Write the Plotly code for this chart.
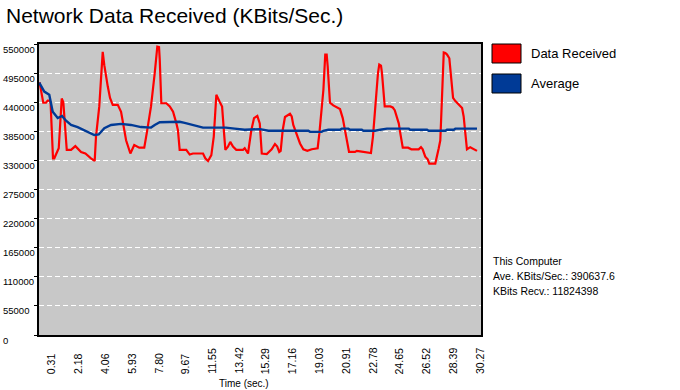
import plotly.graph_objects as go

# ---------------- data ----------------
time_ticks = [0.31, 2.18, 4.06, 5.93, 7.80, 9.67, 11.55, 13.42, 15.29, 17.16,
              19.03, 20.91, 22.78, 24.65, 26.52, 28.39, 30.27]
time_tick_labels = ["0.31", "2.18", "4.06", "5.93", "7.80", "9.67", "11.55", "13.42",
                    "15.29", "17.16", "19.03", "20.91", "22.78", "24.65", "26.52",
                    "28.39", "30.27"]
y_ticks = [0, 55000, 110000, 165000, 220000, 275000, 330000, 385000, 440000, 495000, 550000]
y_tick_labels = ["0", "55000", "110000", "165000", "220000", "275000", "330000",
                 "385000", "440000", "495000", "550000"]

recv_time = [-0.47, -0.21, -0.02, 0.10, 0.21, 0.30, 0.47, 0.56, 0.87, 1.08, 1.19, 1.43,
             1.73, 2.03, 2.43, 2.73, 3.12, 3.38, 3.47, 3.70, 3.94, 4.05, 4.29, 4.45,
             4.64, 4.99, 5.22, 5.38, 5.57, 5.87, 6.14, 6.49, 6.84, 7.01, 7.31, 7.57,
             7.75, 7.87, 7.92, 8.03, 8.38, 8.62, 8.85, 9.08, 9.19, 9.31, 9.77, 10.01,
             10.24, 10.94, 11.10, 11.29, 11.52, 11.69, 11.87, 12.10, 12.27, 12.41, 12.50,
             12.68, 12.84, 13.03, 13.26, 13.73, 13.85, 14.08, 14.31, 14.50, 14.73, 14.90,
             15.04, 15.39, 15.73, 15.96, 16.12, 16.26, 16.36, 16.50, 16.66, 17.01, 17.13,
             17.24, 17.48, 17.71, 17.94, 18.22, 18.53, 18.94, 19.06, 19.22, 19.34, 19.47,
             19.57, 19.64, 19.75, 19.80, 20.03, 20.27, 20.50, 20.69, 20.85, 21.01, 21.13,
             21.55, 21.67, 21.90, 22.36, 22.66, 22.80, 22.92, 23.01, 23.15, 23.24, 23.36,
             23.43, 23.55, 23.62, 24.01, 24.18, 24.32, 24.48, 24.60, 24.71, 24.78, 24.88,
             25.25, 25.48, 25.99, 26.15, 26.27, 26.45, 26.62, 26.73, 27.15, 27.27, 27.39,
             27.50, 27.62, 27.74, 27.85, 27.97, 28.13, 28.27, 28.39, 28.55, 28.78, 29.02,
             29.13, 29.25, 29.36, 29.59, 29.83, 30.06]
recv_kbits = [478000, 439000, 439000, 443000, 443000, 440000, 334000, 334000, 353000,
              447000, 440000, 350000, 350000, 357000, 346000, 343000, 334000, 329000,
              375000, 432000, 535000, 510000, 470000, 448000, 435000, 435000, 422000,
              400000, 368000, 343000, 359000, 354000, 354000, 381000, 432000, 495000,
              545000, 544000, 520000, 438000, 438000, 432000, 422000, 400000, 387000,
              350000, 350000, 341000, 343000, 343000, 334000, 329000, 340000, 375000,
              454000, 441000, 432000, 381000, 350000, 356000, 365000, 356000, 350000,
              350000, 353000, 343000, 387000, 410000, 414000, 400000, 343000, 342000,
              351000, 361000, 356000, 346000, 348000, 387000, 412000, 418000, 413000,
              397000, 378000, 362000, 351000, 348000, 351000, 353000, 381000, 432000,
              463000, 530000, 530000, 508000, 463000, 439000, 434000, 430000, 427000,
              410000, 387000, 368000, 346000, 346000, 348000, 347000, 346000, 344000,
              375000, 413000, 457000, 495000, 511000, 509000, 495000, 463000, 432000,
              432000, 430000, 425000, 413000, 400000, 381000, 368000, 354000, 354000,
              351000, 351000, 355000, 351000, 337000, 332000, 324000, 324000, 337000,
              353000, 368000, 444000, 534000, 533000, 530000, 523000, 489000, 448000,
              442000, 436000, 429000, 413000, 381000, 351000, 355000, 352000, 348000]

avg_time = [-0.49, -0.14, 0.21, 0.45, 0.80, 1.10, 1.38, 1.73, 2.19, 2.77, 3.35, 3.66,
            4.05, 4.52, 5.22, 5.91, 6.61, 7.31, 7.57, 7.92, 8.50, 9.31, 9.66, 10.36,
            10.94, 11.99, 12.54, 13.15, 13.85, 14.92, 15.50, 18.29, 18.41, 19.22, 19.34,
            19.68, 20.50, 20.62, 21.08, 21.20, 22.02, 22.13, 22.94, 23.31, 23.78, 25.30,
            25.39, 26.57, 26.69, 27.85, 27.97, 28.44, 28.55, 30.06]
avg_kbits = [477000, 460000, 454000, 422000, 410000, 414000, 405000, 397000, 393000,
             386000, 378000, 379000, 391000, 397000, 399000, 397000, 393000, 392000,
             397000, 402000, 403000, 403000, 401000, 396000, 392000, 392000, 392000,
             390000, 388000, 389000, 386000, 386000, 384000, 384000, 386000, 388000,
             388000, 390000, 390000, 388000, 388000, 386000, 386000, 388000, 390000,
             390000, 388000, 388000, 386000, 386000, 388000, 388000, 390000, 390000]

series_names = ["Data Received", "Average"]
info_lines = ["This Computer", "Ave. KBits/Sec.: 390637.6", "KBits Recv.: 11824398"]

RED = "#FF0000"
BLUE = "#003A96"
FONT = "Liberation Sans, Arial, sans-serif"

# ---------------- geometry (pixels) ----------------
W, H = 680, 390
L, R, T, B = 39, 199, 44, 55
PW, PH = W - L - R, H - T - B


def px_x(p):
    return (p - L) / PW


def px_y(p):
    return (H - B - p) / PH


fig = go.Figure()
fig.add_trace(go.Scatter(x=recv_time, y=recv_kbits, mode="lines", name=series_names[0],
                         line=dict(color=RED, width=2.2), hoverinfo="x+y"))
fig.add_trace(go.Scatter(x=avg_time, y=avg_kbits, mode="lines", name=series_names[1],
                         line=dict(color=BLUE, width=2.4), hoverinfo="x+y"))

annotations = []
# title
annotations.append(dict(text="Network Data Received (KBits/Sec.)", xref="paper", yref="paper",
                        x=px_x(4), y=px_y(16), xanchor="left", yanchor="middle",
                        showarrow=False, font=dict(family=FONT, size=21, color="black")))
# y tick labels (left aligned, slightly below gridline)
for v, lab in zip(y_ticks, y_tick_labels):
    annotations.append(dict(text=lab, xref="paper", yref="y", x=px_x(1), y=v, yshift=-5,
                            xanchor="left", yanchor="middle", showarrow=False,
                            font=dict(family=FONT, size=9.5, color="black")))
# x tick labels (rotated)
for t, lab in zip(time_ticks, time_tick_labels):
    annotations.append(dict(text=lab, xref="x", yref="paper", x=t, y=px_y(376),
                            xanchor="center", yanchor="bottom", textangle=-90,
                            showarrow=False, font=dict(family=FONT, size=10.5, color="black")))
# x axis title
annotations.append(dict(text="Time (sec.)", xref="paper", yref="paper", x=px_x(243.5),
                        y=px_y(383), xanchor="center", yanchor="middle", showarrow=False,
                        font=dict(family=FONT, size=10, color="black")))
# legend text
for name, yc in zip(series_names, [53.5, 83.5]):
    annotations.append(dict(text=name, xref="paper", yref="paper", x=px_x(529),
                            y=px_y(yc), xanchor="left", yanchor="middle", showarrow=False,
                            font=dict(family=FONT, size=13, color="black")))
# info text
for line, yc in zip(info_lines, [261, 276, 291]):
    annotations.append(dict(text=line, xref="paper", yref="paper", x=px_x(491),
                            y=px_y(yc), xanchor="left", yanchor="middle", showarrow=False,
                            font=dict(family=FONT, size=10.5, color="black")))

shapes = []
for col, (y0, y1) in zip([RED, BLUE], [(44, 63), (74, 93)]):
    shapes.append(dict(type="rect", xref="paper", yref="paper", x0=px_x(492), x1=px_x(521),
                       y0=px_y(y1), y1=px_y(y0), fillcolor=col,
                       line=dict(color="black", width=1)))

fig.update_layout(
    width=W, height=H, autosize=False,
    margin=dict(l=L, r=R, t=T, b=B, pad=0),
    paper_bgcolor="white", plot_bgcolor="#C8C8C8",
    showlegend=False,
    font=dict(family=FONT, size=10, color="black"),
    annotations=annotations, shapes=shapes,
    xaxis=dict(range=[-0.507, 30.34], showgrid=False, zeroline=False,
               tickvals=time_ticks, showticklabels=False, ticks="",
               showline=True, linecolor="black", linewidth=2, mirror=True),
    yaxis=dict(range=[0, 550000], tickvals=y_ticks, showticklabels=False,
               ticks="outside", ticklen=3, tickcolor="black", tickwidth=1,
               showgrid=True, gridcolor="white", gridwidth=1, griddash="5px,3px",
               zeroline=False, showline=True, linecolor="black", linewidth=2, mirror=True),
)

fig.write_html("out.html", config={"displayModeBar": False},
               post_script="document.body.style.margin='0';")
